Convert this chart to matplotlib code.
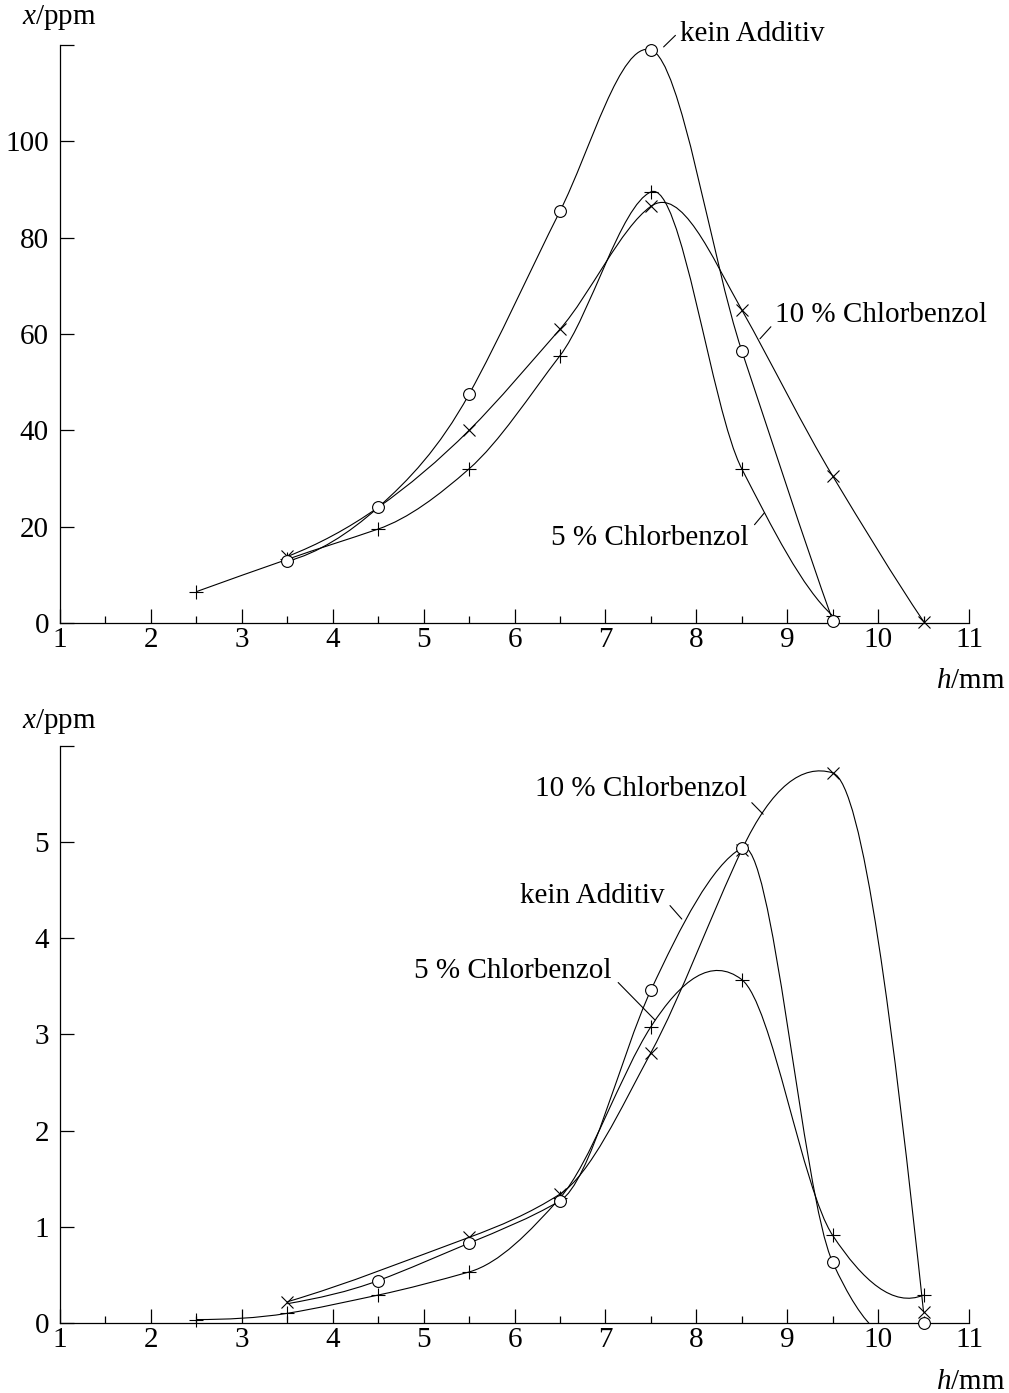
import numpy as np
import matplotlib
matplotlib.use("Agg")
import matplotlib.pyplot as plt
from matplotlib.path import Path
from matplotlib.patches import PathPatch

plt.rcParams['font.family'] = 'Liberation Serif'
plt.rcParams['mathtext.fontset'] = 'custom'
plt.rcParams['mathtext.rm'] = 'Liberation Serif'
plt.rcParams['mathtext.it'] = 'Liberation Serif:italic'

# upper panel
top_h_kein = [3.5, 4.5, 5.5, 6.5, 7.5, 8.5, 9.5]
top_kein = [12.8, 24.0, 47.5, 85.5, 119.0, 56.5, 0.5]
top_h_10 = [3.5, 4.5, 5.5, 6.5, 7.5, 8.5, 9.5, 10.5]
top_10 = [13.8, 24.0, 40.0, 61.0, 86.5, 65.0, 30.5, 0.3]
top_h_5 = [2.5, 3.5, 4.5, 5.5, 6.5, 7.5, 8.5, 9.5]
top_5 = [6.5, 13.2, 19.5, 32.0, 55.5, 89.5, 32.0, 1.5]

# lower panel
bot_h_kein = [3.5, 4.5, 5.5, 6.5, 7.5, 8.5, 9.5, 10.5]
bot_kein = [0.2, 0.44, 0.83, 1.27, 3.46, 4.94, 0.63, 0.0]
bot_h_10 = [3.5, 5.5, 6.5, 7.5, 8.5, 9.5, 10.5]
bot_10 = [0.22, 0.89, 1.34, 2.81, 4.92, 5.72, 0.11]
bot_h_5 = [2.5, 3.5, 4.5, 5.5, 6.5, 7.5, 8.5, 9.5, 10.5]
bot_5 = [0.035, 0.10, 0.29, 0.53, 1.30, 3.08, 3.57, 0.91, 0.29]

labels = ['kein Additiv', '10 % Chlorbenzol', '5 % Chlorbenzol']


def spline_path(x, y):
    """Akima type curve through the points, drawn as bezier segments"""
    x = np.asarray(x, float)
    y = np.asarray(y, float)
    h = np.diff(x)
    s = np.diff(y) / h
    # extend the slopes by two on each side (Akima)
    sl = [2 * s[0] - s[1]]
    sl = [2 * sl[0] - s[0]] + sl
    sr = [2 * s[-1] - s[-2]]
    sr = sr + [2 * sr[0] - s[-1]]
    m = np.concatenate([sl, s, sr])
    t = np.zeros(len(x))
    for i in range(len(x)):
        a, b, c, d = m[i], m[i + 1], m[i + 2], m[i + 3]
        w1 = abs(d - c)
        w2 = abs(b - a)
        if w1 + w2 < 1e-12:
            t[i] = (b + c) / 2
        else:
            t[i] = (w1 * b + w2 * c) / (w1 + w2)
    verts = [(x[0], y[0])]
    codes = [Path.MOVETO]
    for i in range(len(x) - 1):
        verts += [(x[i] + h[i] / 3, y[i] + t[i] * h[i] / 3),
                  (x[i + 1] - h[i] / 3, y[i + 1] - t[i + 1] * h[i] / 3),
                  (x[i + 1], y[i + 1])]
        codes += [Path.CURVE4] * 3
    return Path(verts, codes)


def draw_series(ax, h, v, marker, ms, z, skip=None):
    ax.add_patch(PathPatch(spline_path(h, v), fill=False, lw=0.8,
                           ec='black', zorder=2))
    idx = [i for i in range(len(h)) if skip is None or i not in skip]
    ax.plot(np.asarray(h)[idx], np.asarray(v)[idx], ls='none', marker=marker,
            ms=ms, mew=0.8, mec='black', mfc='white', clip_on=False, zorder=z)


def style_axes(ax, ymax, ystep, fmt):
    ax.set_xlim(1, 11)
    ax.set_ylim(0, ymax)
    for s in ['top', 'right']:
        ax.spines[s].set_visible(False)
    for s in ['left', 'bottom']:
        ax.spines[s].set_linewidth(0.9)
    ax.set_xticks(np.arange(1, 12))
    ax.set_xticks(np.arange(1.5, 11, 1.0), minor=True)
    yt = np.arange(0, ymax + ystep / 2, ystep)
    ax.set_yticks(yt)
    ax.set_yticklabels([fmt(t) for t in yt[:-1]] + [''])
    ax.tick_params(axis='both', which='major', direction='in', length=10,
                   width=0.9, labelsize=21)
    ax.tick_params(axis='x', which='minor', direction='in', length=5, width=0.9)
    ax.tick_params(axis='x', pad=3)
    ax.tick_params(axis='y', pad=8)


def leader(ax, text, p_curve, p_end, p_text, ha):
    ax.annotate('', xy=p_curve, xytext=p_end,
                arrowprops=dict(arrowstyle='-', lw=0.8, color='black',
                                shrinkA=0, shrinkB=0), annotation_clip=False)
    ax.text(p_text[0], p_text[1], text, ha=ha, va='center', fontsize=21,
            clip_on=False)


fig = plt.figure(figsize=(10.09, 13.93), dpi=100)
ax1 = fig.add_axes([0.0595, 0.5528, 0.9009, 0.4149])
ax2 = fig.add_axes([0.0595, 0.0503, 0.9009, 0.4142])

# upper
draw_series(ax1, top_h_10, top_10, 'x', 9, 3, skip=[1])
draw_series(ax1, top_h_5, top_5, '+', 10, 3)
draw_series(ax1, top_h_kein, top_kein, 'o', 8.5, 4)
style_axes(ax1, 120, 20, lambda t: '%d' % t)
leader(ax1, labels[0], (7.64, 119.6), (7.77, 122.0), (7.82, 122.2), 'left')
leader(ax1, labels[1], (8.70, 59.0), (8.82, 61.5), (8.87, 64.0), 'left')
leader(ax1, labels[2], (8.75, 22.9), (8.64, 20.4), (8.57, 17.7), 'right')

# lower
draw_series(ax2, bot_h_10, bot_10, 'x', 9, 3)
draw_series(ax2, bot_h_5, bot_5, '+', 10, 3)
draw_series(ax2, bot_h_kein, bot_kein, 'o', 8.5, 4, skip=[0])
style_axes(ax2, 6, 1, lambda t: '%d' % t)
leader(ax2, labels[1], (8.735, 5.29), (8.61, 5.41), (8.56, 5.55), 'right')
leader(ax2, labels[0], (7.84, 4.20), (7.71, 4.34), (7.655, 4.44), 'right')
leader(ax2, labels[2], (7.545, 3.15), (7.14, 3.54), (7.07, 3.66), 'right')

# axis titles
for ytop, ybot in [(18, 681), (721, 1382)]:
    fig.text(22 / 1009, 1 - ytop / 1393, '$x$/ppm', fontsize=21,
             ha='left', va='center')
    fig.text(1005 / 1009, 1 - ybot / 1393, '$h$/mm', fontsize=21,
             ha='right', va='center')

fig.savefig('out.png', dpi=100)
